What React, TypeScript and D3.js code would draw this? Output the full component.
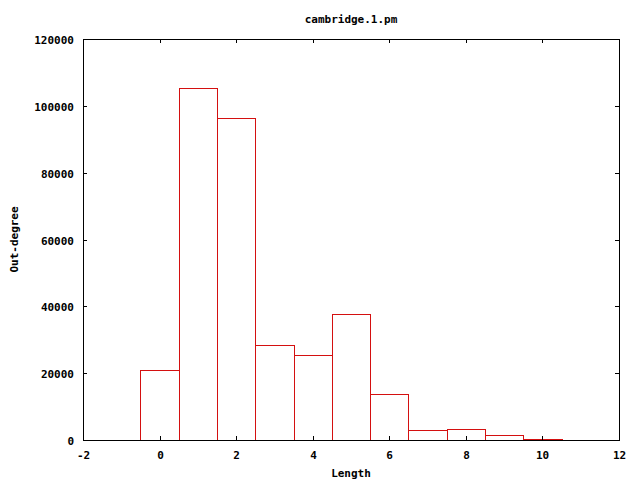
import React from "react";
import * as d3 from "d3";

// histogram bins (length) and counts
const lengths = [0, 1, 2, 3, 4, 5, 6, 7, 8, 9, 10];
const counts = [20900, 105200, 96500, 28400, 25400, 37600, 13700, 2900, 3300, 1600, 250];
const xTicks = [-2, 0, 2, 4, 6, 8, 10, 12];
const yTicks = [0, 20000, 40000, 60000, 80000, 100000, 120000];

const W = 640;
const H = 480;
const margin = { top: 39, right: 21, bottom: 40, left: 83 };

const App = () => {
  const x = d3.scaleLinear().domain([-2, 12]).range([margin.left, W - margin.right]);
  const y = d3.scaleLinear().domain([0, 120000]).range([H - margin.bottom, margin.top]);
  const font = "'DejaVu Sans Mono', monospace";
  const red = "#d41010";
  const tick = 4;
  const x0 = x.range()[0];
  const x1 = x.range()[1];
  const y0 = y.range()[0];
  const y1 = y.range()[1];
  const cx = (x0 + x1) / 2;

  return (
    <svg
      width={W}
      height={H}
      style={{ position: "absolute", left: 0, top: 0, background: "#fff" }}
      shapeRendering="crispEdges"
    >
      <rect width={W} height={H} fill="#fff" />
      {/* bars */}
      {lengths.map((d, i) => (
        <rect
          key={d}
          x={Math.round(x(d - 0.5)) + 0.5}
          y={Math.round(y(counts[i])) + 0.5}
          width={Math.round(x(d + 0.5)) - Math.round(x(d - 0.5))}
          height={Math.round(y(0)) - Math.round(y(counts[i]))}
          fill="none"
          stroke={red}
          strokeWidth={1}
        />
      ))}
      {/* x ticks, mirrored */}
      {xTicks.map((t) => {
        const px = Math.round(x(t)) + 0.5;
        return (
          <g key={"x" + t}>
            <line x1={px} x2={px} y1={y0} y2={y0 - tick} stroke="#000" />
            <line x1={px} x2={px} y1={y1} y2={y1 + tick} stroke="#000" />
            <text
              x={px}
              y={y0 + 19}
              textAnchor="middle"
              fontFamily={font}
              fontWeight="bold"
              fontSize={11}
            >
              {t}
            </text>
          </g>
        );
      })}
      {/* y ticks, mirrored */}
      {yTicks.map((t) => {
        const py = Math.round(y(t)) + 0.5;
        return (
          <g key={"y" + t}>
            <line x1={x0} x2={x0 + tick} y1={py} y2={py} stroke="#000" />
            <line x1={x1} x2={x1 - tick} y1={py} y2={py} stroke="#000" />
            <text
              x={x0 - 9}
              y={py + 4}
              textAnchor="end"
              fontFamily={font}
              fontWeight="bold"
              fontSize={11}
            >
              {t}
            </text>
          </g>
        );
      })}
      {/* frame */}
      <rect
        x={Math.round(x0) + 0.5}
        y={Math.round(y1) + 0.5}
        width={Math.round(x1) - Math.round(x0)}
        height={Math.round(y0) - Math.round(y1)}
        fill="none"
        stroke="#000"
      />
      <text x={cx} y={23} textAnchor="middle" fontFamily={font} fontWeight="bold" fontSize={11}>
        cambridge.1.pm
      </text>
      <text x={cx} y={477} textAnchor="middle" fontFamily={font} fontWeight="bold" fontSize={11}>
        Length
      </text>
      <text
        transform={`translate(18,${(y0 + y1) / 2}) rotate(-90)`}
        textAnchor="middle"
        fontFamily={font}
        fontWeight="bold"
        fontSize={11}
      >
        Out-degree
      </text>
    </svg>
  );
};

export default App;
